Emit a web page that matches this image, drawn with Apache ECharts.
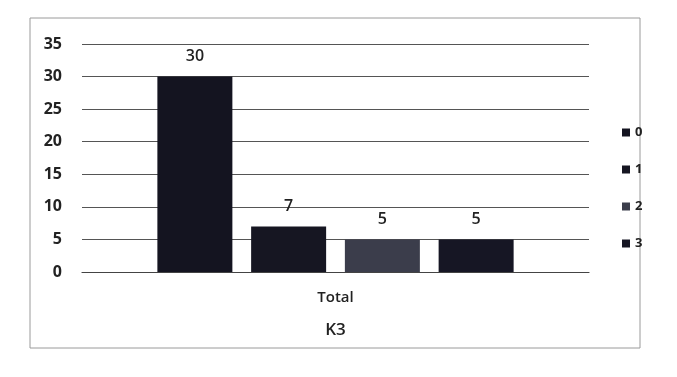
<!DOCTYPE html>
<html><head><meta charset="utf-8">
<script src="https://cdn.jsdelivr.net/npm/echarts@6/dist/echarts.min.js"></script>
<style>html,body{margin:0;padding:0;background:#fff}#c{width:677px;height:377px}</style>
</head><body><div id="c"></div>
<script>
const categories = ['Total'];
const seriesNames = ['0', '1', '2', '3'];
const seriesValues = [[30], [7], [5], [5]];
const seriesColors = ['#141420', '#161622', '#3b3d4b', '#161624'];
const yTicks = { min: 0, max: 35, interval: 5 };
const xAxisTitle = 'K3';

const chart = echarts.init(document.getElementById('c'), null, { renderer: 'canvas' });
const fontFam = '"Open Sans", "Liberation Sans", sans-serif';
chart.setOption({
  animation: false,
  backgroundColor: '#ffffff',
  graphic: [{
    type: 'rect', shape: { x: 30, y: 18, width: 610, height: 330 },
    style: { fill: 'none', stroke: '#9a9a9a', lineWidth: 1 }, silent: true
  }],
  grid: { left: 82, right: 88, top: 44, bottom: 105, containLabel: false },
  legend: {
    orient: 'vertical', left: 617, top: 121, itemWidth: 8, itemHeight: 8, itemGap: 24,
    icon: 'rect',
    textStyle: { fontFamily: fontFam, fontWeight: 'bold', fontSize: 13, color: '#222' },
    data: seriesNames
  },
  xAxis: {
    type: 'category', data: categories,
    name: xAxisTitle, nameLocation: 'middle', nameGap: 50,
    nameTextStyle: { fontFamily: fontFam, fontSize: 17, fontWeight: 600, color: '#222' },
    axisLine: { show: true, lineStyle: { color: '#444', width: 1.2 } },
    axisTick: { show: false },
    axisLabel: { fontFamily: fontFam, fontSize: 15, fontWeight: 600, color: '#222', margin: 18 }
  },
  yAxis: {
    type: 'value', min: yTicks.min, max: yTicks.max, interval: yTicks.interval,
    axisLine: { show: false }, axisTick: { show: false },
    axisLabel: { fontFamily: fontFam, fontSize: 16, fontWeight: 'bold', color: '#222', margin: 20 },
    splitLine: { lineStyle: { color: '#555', width: 1.2 } }
  },
  series: seriesNames.map((n, i) => ({
    name: n, type: 'bar', data: seriesValues[i],
    barWidth: 75, barGap: '25%',
    itemStyle: { color: seriesColors[i] },
    label: { show: true, position: 'top', distance: 12, fontFamily: fontFam, fontSize: 16, fontWeight: 600, color: '#222' }
  }))
});
</script></body></html>
